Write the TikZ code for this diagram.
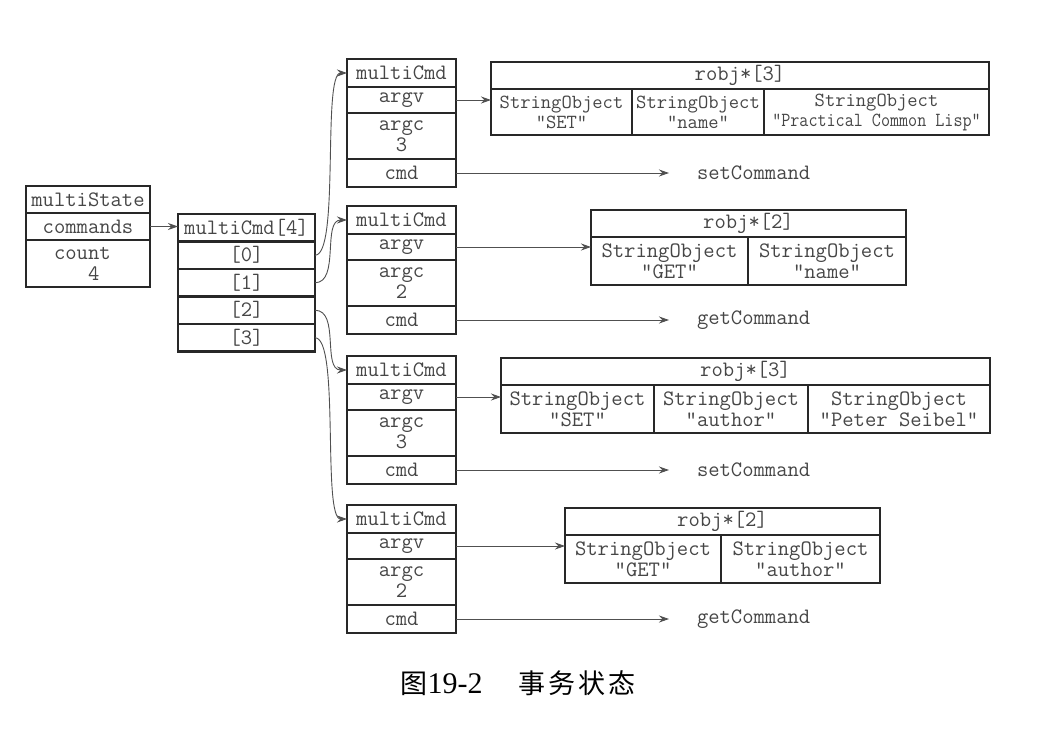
\documentclass[tikz,border=0pt]{standalone}
\usepackage{fontspec}
\usepackage{graphicx}
\setmainfont{Liberation Serif}
\newfontfamily\cjk{Noto Sans CJK SC}
\usetikzlibrary{arrows.meta, positioning}
\definecolor{boxline}{RGB}{40, 40, 40}
\definecolor{celltext}{RGB}{70, 70, 70}
\definecolor{ptrgray}{RGB}{80, 80, 80}
\tikzset{
    cell/.style={draw=boxline, line width=2.8pt, inner sep=0pt, outer sep=0pt, minimum height=27pt, align=center, text=celltext, font=\ttfamily\fontsize{22}{21}\selectfont},
    ptr/.style={-{Stealth[length=10pt, width=7pt]}, draw=ptrgray, line width=0.9pt},
    fnname/.style={inner sep=0pt, outer sep=0pt, text=celltext, font=\ttfamily\fontsize{22}{21}\selectfont}
}

\begin{document}
\begin{tikzpicture}[x=1pt, y=-1pt]
    \useasboundingbox (0,0) rectangle (1060,736);

    % multiState
    \node[cell, minimum width=124pt, anchor=north west] (ms) at (26,186) {multiState};
    \node[cell, minimum width=124pt, below=0pt of ms] (commands) {commands};
    \node[cell, minimum width=124pt, minimum height=47pt, below=0pt of commands] (count) {count\phantom{x}\\\phantom{x}4};

    % multiCmd array
    \node[cell, minimum width=137pt, minimum height=27.5pt, anchor=north west] (arr) at (178,214) {multiCmd[4]};
    \foreach \i/\prev in {0/arr, 1/a0, 2/a1, 3/a2}
        \node[cell, minimum width=137pt, minimum height=27.5pt, below=0pt of \prev] (a\i) {[\i]};

    \draw[ptr] (commands.east) -- (commands.east -| arr.west);

    % the four multiCmd structures
    \foreach \k/\top/\argc/\fn in {1/59/3/setCommand, 2/206/2/getCommand, 3/356/3/setCommand, 4/505/2/getCommand} {
        \node[cell, minimum width=109pt, minimum height=28pt, anchor=north west] (mc\k) at (347,\top) {multiCmd};
        \node[cell, minimum width=109pt, minimum height=26pt, below=0pt of mc\k] (argv\k) {argv};
        \node[cell, minimum width=109pt, minimum height=46pt, below=0pt of argv\k] (argc\k) {argc\\\argc};
        \node[cell, minimum width=109pt, minimum height=28pt, below=0pt of argc\k] (cmd\k) {cmd};
        \node[fnname, right=241pt of cmd\k] (fn\k) {\fn};
        \draw[ptr] (cmd\k) -- ([xshift=-28pt]fn\k.west);
    }

    % robj*[3] : SET name
    \node[cell, minimum width=498pt, anchor=north west] (ro1) at (491,62) {robj*[3]};
    \node[cell, minimum width=141pt, minimum height=46pt, anchor=north west, font=\ttfamily\fontsize{20}{20}\selectfont] (s11) at (ro1.south west) {StringObject\\"SET"};
    \node[cell, minimum width=132pt, minimum height=46pt, right=0pt of s11, font=\ttfamily\fontsize{20}{20}\selectfont] (s12) {StringObject\\"name"};
    \node[cell, minimum width=225pt, minimum height=46pt, right=0pt of s12, font=\ttfamily\fontsize{20}{20}\selectfont] (s13) {StringObject\\\scalebox{0.88}[1]{"Practical Common Lisp"}};

    % robj*[2] : GET name
    \node[cell, minimum width=315pt, anchor=north west] (ro2) at (591,210) {robj*[2]};
    \node[cell, minimum width=157pt, minimum height=48pt, anchor=north west] (s21) at (ro2.south west) {StringObject\\"GET"};
    \node[cell, minimum width=158pt, minimum height=48pt, right=0pt of s21] (s22) {StringObject\\"name"};

    % robj*[3] : SET author
    \node[cell, minimum width=489pt, anchor=north west] (ro3) at (501,358) {robj*[3]};
    \node[cell, minimum width=153pt, minimum height=48pt, anchor=north west] (s31) at (ro3.south west) {StringObject\\"SET"};
    \node[cell, minimum width=154pt, minimum height=48pt, right=0pt of s31] (s32) {StringObject\\"author"};
    \node[cell, minimum width=182pt, minimum height=48pt, right=0pt of s32] (s33) {StringObject\\"Peter Seibel"};

    % robj*[2] : GET author
    \node[cell, minimum width=315pt, anchor=north west] (ro4) at (565,508) {robj*[2]};
    \node[cell, minimum width=156pt, minimum height=48pt, anchor=north west] (s41) at (ro4.south west) {StringObject\\"GET"};
    \node[cell, minimum width=159pt, minimum height=48pt, right=0pt of s41] (s42) {StringObject\\"author"};

    % argv pointers
    \foreach \k in {1,2,3,4}
        \draw[ptr] (argv\k.east) -- (argv\k.east -| s\k1.west);

    % array slots to structures
    \draw[ptr] (a0.east) .. controls +(25,0) and +(-25,0) .. (mc1.west);
    \draw[ptr] (a1.east) .. controls +(25,0) and +(-25,0) .. (mc2.west);
    \draw[ptr] (a2.east) .. controls +(25,0) and +(-25,0) .. (mc3.west);
    \draw[ptr] (a3.east) .. controls +(25,0) and +(-25,0) .. (mc4.west);

    % caption
    \node[font=\fontsize{27}{27}\selectfont] (caption) at (518,683) {{\cjk 图}{\fontsize{30}{30}\selectfont 19-2}\hspace{36pt}{\cjk 事\hspace{3pt}务\hspace{3pt}状\hspace{3pt}态}};
\end{tikzpicture}
\end{document}
